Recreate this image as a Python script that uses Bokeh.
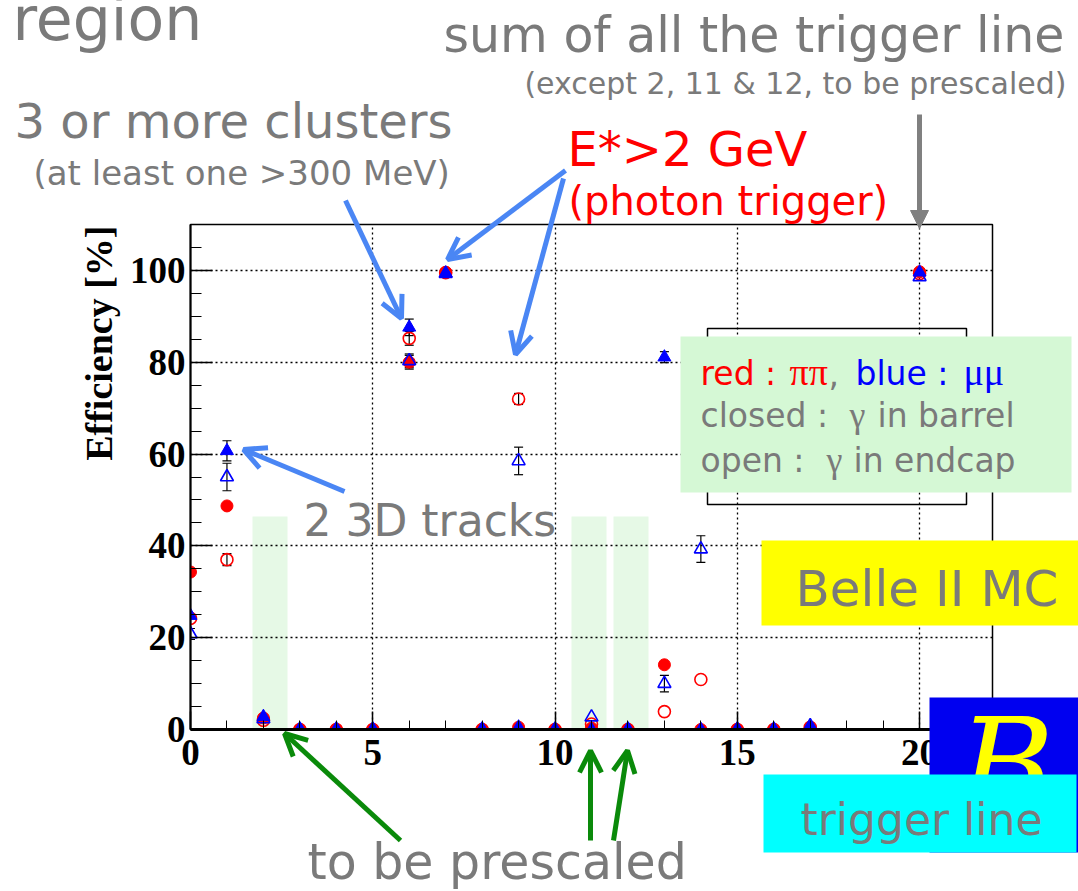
import numpy as np
from bokeh.plotting import figure
from bokeh.layouts import column
from bokeh.models import (Range1d, SingleIntervalTicker, Label, Arrow, OpenHead, NormalHead,
                          BoxAnnotation, Whisker, TeeHead, ColumnDataSource)
from bokeh.embed import file_html
from bokeh.resources import INLINE

# ---------------- data ----------------
trigger_line = [0, 1, 2, 3, 4, 5, 6, 7, 8, 9, 10, 11, 12, 13, 14, 15, 16, 17, 20]
# pi pi, photon in barrel (red closed)
eff_pipi_barrel = [34.3, 48.7, 2.5, 0, 0, 0, 80.0, 99.6, 0, 0.5, 0, 0.3, 0, 14.1, 0, 0, 0, 0.3, 99.7]
# pi pi, photon in endcap (red open)
eff_pipi_endcap = [24.2, 37.0, 2.0, 0, 0, 0, 85.2, 99.5, 0, 72.0, 0, 1.2, 0, 3.9, 10.9, 0, 0, 0.5, 99.3]
# mu mu, photon in barrel (blue closed)
eff_mumu_barrel = [24.8, 60.7, 2.8, 0, 0, 0, 87.6, 99.4, 0, 0.5, 0, 0, 0, 81.1, 0, 0, 0, 0.5, 99.6]
# mu mu, photon in endcap (blue open)
eff_mumu_endcap = [20.8, 55.0, 2.3, 0, 0, 0, 80.3, 99.3, 0, 58.5, 0, 2.7, 0, 10.0, 39.3, 0, 0, 0.8, 98.6]
# statistical errors
err_pipi_barrel = [0, 0, 0, 0, 0, 0, 1.5, 0, 0, 0, 0, 0, 0, 0, 0, 0, 0, 0, 0]
err_pipi_endcap = [0, 1.3, 0, 0, 0, 0, 1.5, 0, 0, 1.2, 0, 0, 0, 0, 0, 0, 0, 0, 0]
err_mumu_barrel = [0, 2.2, 0, 0, 0, 0, 1.8, 0, 0, 0, 0, 0, 0, 1.2, 0, 0, 0, 0, 0]
err_mumu_endcap = [1.2, 3.0, 0, 0, 0, 0, 1.5, 0, 0, 3.0, 0, 0, 0, 1.8, 2.9, 0, 0, 0, 0]

# ---------------- main ROOT-like plot ----------------
W, H = 1078, 891
XL, XR, YT, YB = 190.0, 992.0, 224.0, 729.0   # frame edges in picture pixels
p = figure(width=W, height=H, x_range=Range1d(0, 22), y_range=Range1d(0, 110),
           output_backend="svg", toolbar_location=None,
           min_border_left=int(XL), min_border_right=int(W - XR), min_border_top=int(YT),
           min_border_bottom=int(H - YB))
p.background_fill_color = "white"
p.border_fill_color = "white"
p.outline_line_color = "black"
p.outline_line_width = 1.5
p.frame_align = False

p.xaxis.ticker = SingleIntervalTicker(interval=5, num_minor_ticks=5)
p.yaxis.ticker = SingleIntervalTicker(interval=20, num_minor_ticks=4)
for ax in (p.xaxis[0], p.yaxis[0]):
    ax.axis_line_color = "black"
    ax.major_tick_line_color = "black"
    ax.minor_tick_line_color = "black"
    ax.major_tick_out = 0
    ax.minor_tick_out = 0
    ax.major_label_text_font = "Liberation Serif"
    ax.major_label_text_font_style = "bold"
    ax.major_label_text_font_size = "37px"
    ax.major_label_text_color = "black"
p.xaxis.axis_line_width = 3
p.yaxis.axis_line_width = 2
p.xaxis.major_tick_in = 18
p.xaxis.minor_tick_in = 9
p.yaxis.major_tick_in = 22
p.yaxis.minor_tick_in = 11
p.xaxis.major_tick_line_width = 1.5
p.yaxis.major_tick_line_width = 1.5
p.xaxis.major_label_standoff = 10
p.yaxis.major_label_standoff = 5

p.grid.grid_line_color = "black"
p.grid.grid_line_dash = "2 3"
p.grid.grid_line_width = 1.3

# picture pixel -> data coordinates of the main plot
def dx(px):
    return (px - XL) / (XR - XL) * 22.0
def dy(py):
    return (YB - py) / (YB - YT) * 110.0

# light-green "to be prescaled" bands
for l, r in [(252, 287), (571, 606), (613, 648)]:
    p.quad(left=dx(l), right=dx(r), bottom=0, top=dy(516), fill_color="#e6f9e6",
           line_color=None, level="underlay")

def whisk(y, e):
    xs = [x for x, ee in zip(trigger_line, e) if ee > 0]
    up = [yy + ee for yy, ee in zip(y, e) if ee > 0]
    lo = [yy - ee for yy, ee in zip(y, e) if ee > 0]
    src = ColumnDataSource(dict(x=xs, upper=up, lower=lo))
    p.add_layout(Whisker(source=src, base="x", upper="upper", lower="lower", line_color="black",
                         line_width=1.2,
                         upper_head=TeeHead(size=9, line_color="black", line_width=1.2),
                         lower_head=TeeHead(size=9, line_color="black", line_width=1.2)))

whisk(eff_pipi_barrel, err_pipi_barrel)
whisk(eff_pipi_endcap, err_pipi_endcap)
whisk(eff_mumu_barrel, err_mumu_barrel)
whisk(eff_mumu_endcap, err_mumu_endcap)

p.scatter(trigger_line, eff_pipi_barrel, marker="circle", size=12, fill_color="red", line_color="red")
p.scatter(trigger_line, eff_pipi_endcap, marker="circle", size=12, fill_color=None, line_color="red",
          line_width=1.6)
p.scatter(trigger_line, eff_mumu_endcap, marker="triangle", size=13, fill_color=None, line_color="blue",
          line_width=1.6)
p.scatter(trigger_line, eff_mumu_barrel, marker="triangle", size=13, fill_color="blue", line_color="blue")

# ---------------- transparent overlay for the slide annotations ----------------
q = figure(width=W, height=H, x_range=Range1d(0, W), y_range=Range1d(0, H),
           output_backend="svg", toolbar_location=None, x_axis_type=None, y_axis_type=None,
           min_border=0, min_border_left=0, min_border_right=0, min_border_top=0,
           min_border_bottom=0)
q.grid.visible = False
q.outline_line_color = None
q.background_fill_color = None
q.border_fill_color = None
q.frame_align = False
q.margin = (-H, 0, 0, 0)

def X(px):
    return float(px)
def Y(py):
    return float(H - py)

GRAY = "#7a7a7a"
SANS = "DejaVu Sans"
SERIF = "Liberation Serif"
SHIFT = 0.3   # baseline compensation (fraction of font size)

def label(px, py, text, size, color=GRAY, font=SANS, align="left", angle=0, style="normal"):
    if angle == 0:
        py = py - SHIFT * size
    else:
        px = px - SHIFT * size
    q.add_layout(Label(x=X(px), y=Y(py), text=text, text_font=font, text_font_size=f"{size}px",
                       text_color=color, text_align=align, text_baseline="alphabetic",
                       angle=angle, text_font_style=style))

def box(x0, x1, y0, y1, color, line=None, lw=0):
    q.add_layout(BoxAnnotation(left=X(x0), right=X(x1), top=Y(y0), bottom=Y(y1),
                               fill_color=color if color else "white",
                               fill_alpha=1.0 if color else 0,
                               line_color=line if line else "black", line_width=lw,
                               line_alpha=1.0 if line else 0))

def arrow(x0, y0, x1, y1, color, lw=5, head="open", hs=22):
    if head == "open":
        h = OpenHead(size=hs, line_color=color, line_width=lw)
    else:
        h = NormalHead(size=hs, fill_color=color, line_color=color)
    q.add_layout(Arrow(x_start=X(x0), y_start=Y(y0), x_end=X(x1), y_end=Y(y1),
                       line_color=color, line_width=lw, end=h))

# y-axis title (ROOT style, aligned to the top end of the axis)
label(110, 225, "Efficiency [%]", 38, color="black", font=SERIF, align="right", angle=np.pi / 2,
      style="bold")

# legend (ROOT frame + green overlay)
box(707, 966, 328, 504, None, line="black", lw=1.5)
box(680, 1071, 336, 492, "#d5f8d5")
label(700, 383, "red :", 33, color="red")
label(789, 383, "ππ", 38, color="red", font=SERIF)
label(828, 383, ",", 33, color=GRAY)
label(855, 383, "blue :", 33, color="blue")
label(963, 383, "μμ", 38, color="blue", font=SERIF)
label(700, 425, "closed :", 33)
label(849, 425, "γ", 36, font=SERIF)
label(877, 425, "in barrel", 33)
label(700, 470, "open :", 33)
label(826, 470, "γ", 36, font=SERIF)
label(853, 470, "in  endcap", 33)

# texts
label(12, 36, "region", 60)
label(443, 50, "sum of all the trigger line", 49)
label(1066, 92, "(except 2, 11 & 12, to be prescaled)", 30, align="right")
label(14, 135, "3 or more clusters", 48)
label(33, 183, "(at least one >300 MeV)", 34)
label(567, 163, "E*>2 GeV", 48, color="red")
label(568, 212, "(photon trigger)", 40, color="red")
label(303, 533, "2 3D tracks", 44)
label(307, 877, "to be prescaled", 49)

# arrows
BLUE = "#4a86f4"
GREEN = "#0a8a0a"
arrow(919, 114, 919, 228, "#808080", lw=5, head="normal", hs=18)
arrow(345, 200, 401, 318, BLUE)
arrow(565, 170, 447, 259, BLUE)
arrow(563, 178, 515, 354, BLUE)
arrow(344, 491, 243, 449, BLUE)
arrow(400, 840, 284, 733, GREEN)
arrow(590, 840, 590, 750, GREEN)
arrow(613, 840, 627, 750, GREEN)

# Belle II MC box
box(761, 1078, 540, 625, "#ffff00")
label(795, 603, "Belle II MC", 50)

# logo + trigger line box
box(929, 1078, 697, 852, "#0000f0")
label(958, 803, "B", 130, color="#ffff00", font="DejaVu Serif", style="italic")
box(763, 1076, 774, 852, "#00ffff")
label(800, 832, "trigger line", 44)

layout = column(p, q, spacing=0)
open("out.html", "w").write(file_html(layout, INLINE))
